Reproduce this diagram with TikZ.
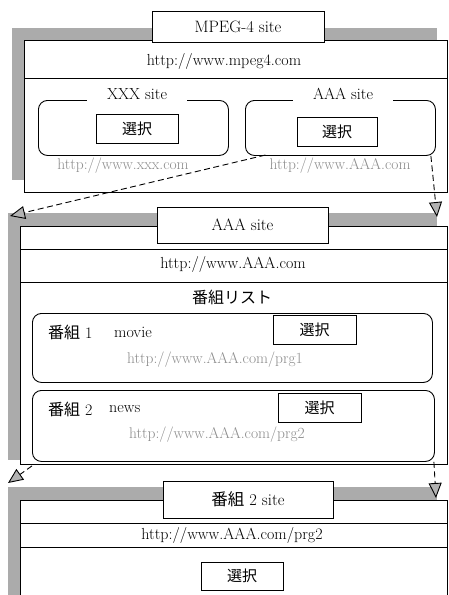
\documentclass[tikz,border=0pt]{standalone}
\usepackage{fontspec}
\newfontfamily\jp{Noto Sans CJK JP}
\usetikzlibrary{arrows.meta}
\tikzset{
  shadowfill/.style={fill=black!33, draw=none},
  win/.style={draw, fill=white, line width=0.9pt, inner sep=0pt, anchor=north west},
  titlebox/.style={draw, fill=white, line width=0.9pt, inner sep=0pt, font=\fontsize{16.5}{18}\selectfont},
  urltext/.style={font=\fontsize{16}{18}\selectfont, inner sep=1pt},
  selbox/.style={draw, fill=white, line width=0.9pt, inner sep=0pt, font=\jp\fontsize{15}{17}\selectfont},
  rbox/.style={draw, rounded corners=9pt, line width=0.9pt, inner sep=0pt, anchor=north west},
  boxlabel/.style={fill=white, inner xsep=20pt, inner ysep=1pt, font=\fontsize{16}{18}\selectfont},
  graytext/.style={text=black!45, font=\fontsize{15.5}{17}\selectfont, inner sep=1pt},
  jptext/.style={font=\fontsize{16}{18}\selectfont, inner sep=1pt},
  link/.style={line width=0.9pt, dash pattern=on 6pt off 3.5pt, -{Triangle[length=15pt,width=13pt,fill=black!30,line width=0.9pt]}},
}
\begin{document}
\begin{tikzpicture}[x=1pt,y=-1pt]
\useasboundingbox (0,0) rectangle (448,595);
% ---------- Panel 1 : MPEG-4 site ----------
\fill[shadowfill] (12,28) rectangle (437,180);
\node[win, minimum width=423pt, minimum height=152pt] (w1) at (24,40) {};
\draw[line width=0.9pt] (24,78) -- (447,78);
\node[titlebox, minimum width=172pt, minimum height=31pt] (t1) at (238,26.5) {MPEG-4 site};
\node[urltext] (u1) at (224,61) {http://www.mpeg4.com};
% XXX site
\node[rbox, minimum width=190pt, minimum height=55pt] (xbox) at (38,100) {};
\node[boxlabel] (xlab) at (137,94) {XXX site};
\node[selbox, minimum width=82pt, minimum height=29pt] (xsel) at (137,128.5) {選択};
\node[graytext] (xurl) at (123,166) {http://www.xxx.com};
% AAA site
\node[rbox, minimum width=190pt, minimum height=55pt] (abox) at (245,100) {};
\node[boxlabel] (alab) at (343,94) {AAA site};
\node[selbox, minimum width=80pt, minimum height=29pt] (asel) at (337,131.5) {選択};
\node[graytext] (aurl) at (340,166) {http://www.AAA.com};
% ---------- Panel 2 : AAA site ----------
\fill[shadowfill] (8,213) rectangle (437,460);
\node[win, minimum width=427pt, minimum height=238pt] (w2) at (20,226) {};
\node[win, minimum width=427pt, minimum height=33pt] (u2bar) at (20,249) {};
\node[titlebox, minimum width=171pt, minimum height=36pt] (t2) at (242.5,225) {AAA site};
\node[urltext] (u2) at (233,264) {http://www.AAA.com};
\node[jptext] (list) at (232,297) {\jp 番組リスト};
% program 1
\node[rbox, minimum width=400pt, minimum height=69pt] (p1) at (32,313) {};
\node[jptext, anchor=west] (p1name) at (47,332) {{\jp 番組} 1};
\node[urltext, anchor=west] (p1title) at (113,332) {movie};
\node[selbox, minimum width=83pt, minimum height=29pt] (p1sel) at (314.5,329.5) {選択};
\node[graytext] (p1url) at (215,360) {http://www.AAA.com/prg1};
% program 2
\node[rbox, minimum width=402pt, minimum height=71pt] (p2) at (32,390) {};
\node[jptext, anchor=west] (p2name) at (47,409) {{\jp 番組} 2};
\node[urltext, anchor=west] (p2title) at (108,409) {news};
\node[selbox, minimum width=83pt, minimum height=29pt] (p2sel) at (319.5,407.5) {選択};
\node[graytext] (p2url) at (217,435) {http://www.AAA.com/prg2};
% ---------- Panel 3 : 番組 2 site ----------
\begin{scope}
\clip (0,0) rectangle (448,595);
\fill[shadowfill] (8,487) rectangle (437,600);
\node[win, minimum width=427pt, minimum height=110pt] (w3) at (20,500) {};
\node[win, minimum width=427pt, minimum height=24pt] (u3bar) at (20,523) {};
\end{scope}
\node[titlebox, minimum width=170pt, minimum height=37pt] (t3) at (248,499.5) {{\jp 番組} 2 site};
\node[urltext] (u3) at (232,535) {http://www.AAA.com/prg2};
\node[selbox, minimum width=82pt, minimum height=28pt] (p3sel) at (242,576) {選択};
% ---------- connectors ----------
\coordinate (a1s) at ([xshift=-3pt,yshift=2pt]aurl.north west);
\coordinate (a1e) at (10,216);
\coordinate (a2s) at ([xshift=-5pt]abox.south east);
\coordinate (a2e) at (437,217);
\coordinate (b1s) at ([yshift=-4pt]p2.south west);
\coordinate (b1e) at (8,483);
\coordinate (b2s) at ([xshift=-1pt]p2.south east);
\coordinate (b2e) at (436,498);
\draw[link] (a1s) -- (a1e);
\draw[link] (a2s) -- (a2e);
\draw[link] (b1s) -- (b1e);
\draw[link] (b2s) -- (b2e);
\end{tikzpicture}
\end{document}
